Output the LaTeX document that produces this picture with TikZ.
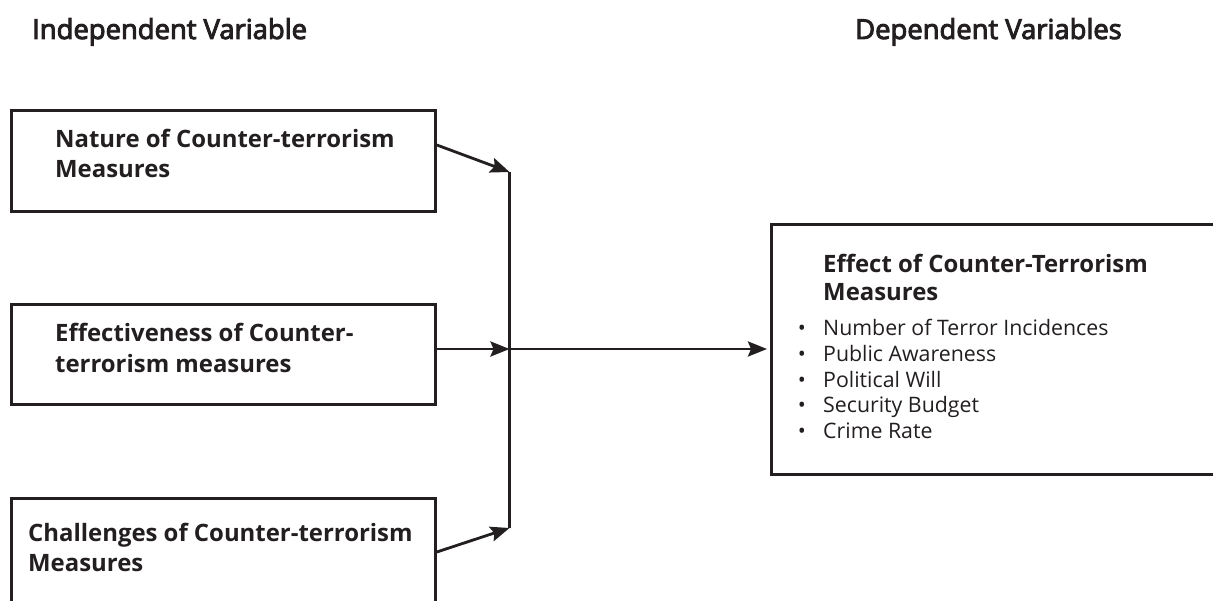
\documentclass[tikz,border=0pt]{standalone}
\usepackage{fontspec}
\setmainfont{Open Sans}
\newfontfamily\titlefont[FakeBold=3.5]{Open Sans}
\usetikzlibrary{arrows.meta,calc}
\definecolor{ink}{RGB}{35,31,32}
\tikzset{
  boxx/.style={draw=ink, line width=2.8bp, rectangle, inner sep=0pt, anchor=north west},
  lbl/.style={anchor=base west, inner sep=0pt, text=ink, font=\fontsize{24}{30}\selectfont\bfseries},
  rlbl/.style={anchor=base west, inner sep=0pt, text=ink, font=\fontsize{24}{28}\selectfont\bfseries},
  item/.style={anchor=base west, inner sep=0pt, text=ink, font=\fontsize{21.4}{25}\selectfont},
  bul/.style={anchor=base, inner sep=0pt, text=ink, font=\fontsize{21.4}{25}\selectfont},
  head/.style={anchor=base west, inner sep=0pt, text=ink, font=\fontsize{27.5}{30}\titlefont},
  conn/.style={draw=ink, line width=2.8bp},
  arr/.style={conn, -{Stealth[length=19bp,width=15bp,inset=3bp]}}
}
\begin{document}
\begin{tikzpicture}[x=1bp,y=-1bp]
\useasboundingbox (0,0) rectangle (1213,601);
\clip (0,0) rectangle (1213,601);
\fill[white] (0,0) rectangle (1213,601);
% headings
\node[head] (hind) at (32,39) {Independent Variable};
\node[head] (hdep) at (855,39) {Dependent Variables};
% boxes
\node[boxx, minimum width=424bp, minimum height=101bp] (b1) at (10,109) {};
\node[boxx, minimum width=424bp, minimum height=100bp] (b2) at (10,303) {};
\node[boxx, minimum width=424bp, minimum height=140bp] (b3) at (10,497) {};
\node[boxx, minimum width=500bp, minimum height=250bp] (b4) at (770,223) {};
% box labels
\node[lbl] (t1a) at (55,148) {Nature of Counter-terrorism};
\node[lbl] (t1b) at (55,178) {Measures};
\node[lbl] (t2a) at (55,342) {Effectiveness of Counter-};
\node[lbl] (t2b) at (55,372) {terrorism measures};
\node[lbl] (t3a) at (28,541) {Challenges of Counter-terrorism};
\node[lbl] (t3b) at (28,571) {Measures};
\node[rlbl] (t4a) at (823,273) {Effect of Counter-Terrorism};
\node[rlbl] (t4b) at (823,301) {Measures};
\foreach \n/\y/\t in {1/336/Number of Terror Incidences,2/361.5/Public Awareness,3/387/Political Will,4/412.5/Security Budget,5/438/Crime Rate}{
  \node[bul] (bu\n) at (802,\y) {•};
  \node[item] (it\n) at (823,\y) {\t};
}
% junction
\coordinate (jtop) at (509.5,172);
\coordinate (jmid) at (509.5,349);
\coordinate (jbot) at (509.5,528);
\coordinate (tip4) at (767,349);
\draw[conn] (jtop) -- (jbot);
\draw[arr] ([yshift=-36bp]b1.north east) -- (jtop);
\draw[arr] (b2.east |- jmid) -- (jmid);
\draw[arr] ([yshift=-55bp]b3.north east) -- (jbot);
\draw[arr] (jmid) -- (tip4);
\end{tikzpicture}
\end{document}
